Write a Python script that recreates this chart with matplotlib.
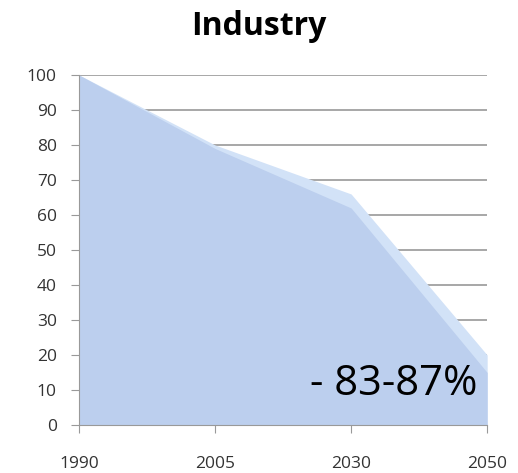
import matplotlib.pyplot as plt

years = ['1990', '2005', '2030', '2050']
upper = [100, 80, 66, 20]
lower = [100, 79, 62, 15]

plt.rcParams['font.family'] = ['Open Sans', 'DejaVu Sans']

fig = plt.figure(figsize=(5.18, 4.73), dpi=100)
ax = fig.add_axes([0.1525, 0.1015, 0.788, 0.74])

x = list(range(len(years)))
ax.fill_between(x, 0, upper, color='#d2e2f7', lw=0, zorder=2)
ax.fill_between(x, 0, lower, color='#bccfee', lw=0, zorder=3)

ax.set_xlim(0, len(years) - 1)
ax.set_ylim(0, 100)
ax.set_yticks(range(0, 101, 10))
ax.set_xticks(x)
ax.set_xticklabels(years)
ax.grid(axis='y', color='#a0a0a0', lw=1.3, zorder=1)
ax.set_axisbelow(True)

for s in ['top', 'right']:
    ax.spines[s].set_visible(False)
for s in ['left', 'bottom']:
    ax.spines[s].set_color('#999999')
    ax.spines[s].set_zorder(4)

ax.tick_params(axis='y', length=6, color='#999999', pad=10, labelsize=12.5, labelcolor='#333333')
ax.tick_params(axis='x', length=6, color='#999999', pad=16, labelsize=12.5, labelcolor='#333333')

ax.text(2.93, 8.6, '- 83-87%', fontsize=30, ha='right', va='baseline', zorder=5)

fig.text(0.5, 1 - 35 / 473, 'Industry', ha='center', va='baseline', fontsize=23, fontweight='bold')

fig.savefig('out.png', dpi=100)
